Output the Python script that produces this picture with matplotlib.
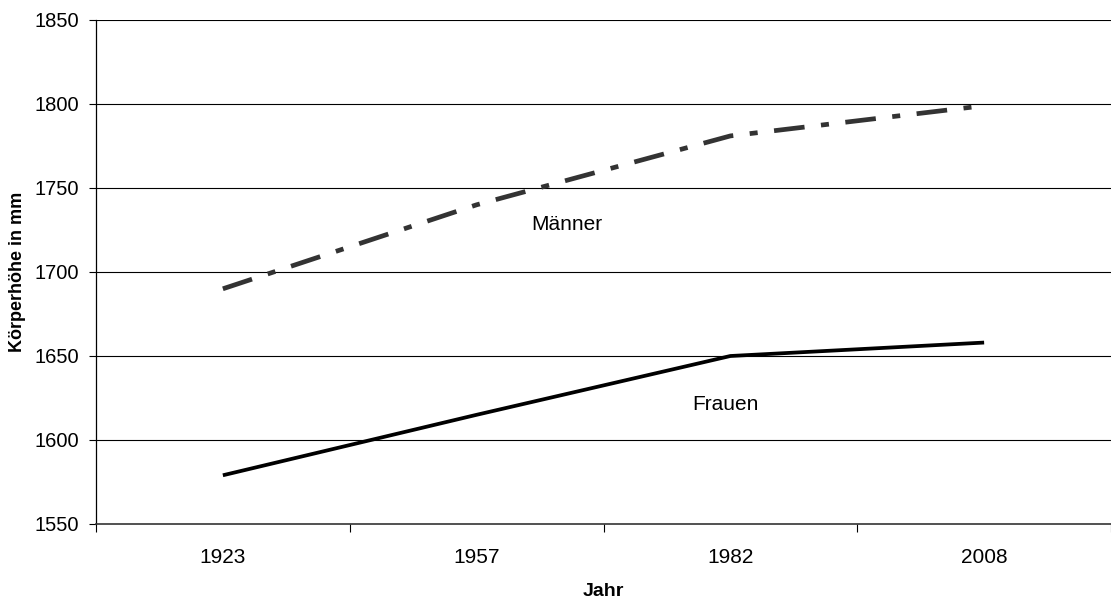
import matplotlib
matplotlib.use("Agg")
import matplotlib.pyplot as plt
import numpy as np

plt.rcParams["font.family"] = ["Liberation Sans", "DejaVu Sans"]

# Daten
jahre = ["1923", "1957", "1982", "2008"]
maenner = [1690, 1740, 1781, 1799]
frauen = [1579, 1615, 1650, 1658]
y_ticks = [1550, 1600, 1650, 1700, 1750, 1800, 1850]

x = np.arange(len(jahre))

fig = plt.figure(figsize=(11.11, 6.03), dpi=100)
ax = fig.add_axes([96 / 1111, 1 - 524 / 603, 1 - 96 / 1111, (524 - 20) / 603])

for yv in y_ticks[1:]:
    ax.axhline(yv, color="black", lw=0.8, zorder=1)

ax.plot(x, maenner, color="#333333", lw=3.4, dashes=(6.5, 3.5, 1.7, 3.5),
        dash_capstyle="butt", solid_capstyle="butt", zorder=3)
ax.plot(x, frauen, color="black", lw=2.7, solid_capstyle="butt", zorder=3)

ax.text(1.354, 1728, "Männer", fontsize=15, ha="center", va="center")
ax.text(1.98, 1621, "Frauen", fontsize=15, ha="center", va="center")

ax.set_xlim(-0.5, len(jahre) - 0.5)
ax.set_ylim(1550, 1850)
ax.set_yticks(y_ticks)
ax.set_xticks(x)
ax.set_xticklabels(jahre)
ax.set_xticks(np.arange(len(jahre) + 1) - 0.5, minor=True)
ax.tick_params(axis="x", which="major", length=0, pad=17, labelsize=15)
ax.tick_params(axis="x", which="minor", length=6, width=0.8, direction="out")
ax.tick_params(axis="y", length=5, width=0.8, direction="out", pad=7, labelsize=14.5)

for s in ["top", "right"]:
    ax.spines[s].set_visible(False)
ax.spines["left"].set_linewidth(0.9)
ax.spines["bottom"].set_linewidth(1.2)
ax.spines["bottom"].set_color("#333333")

ax.set_xlabel("Jahr", fontsize=14, fontweight="bold", labelpad=12)
ax.set_ylabel("Körperhöhe in mm", fontsize=13, fontweight="bold", labelpad=6)

fig.savefig("out.png", dpi=100)
